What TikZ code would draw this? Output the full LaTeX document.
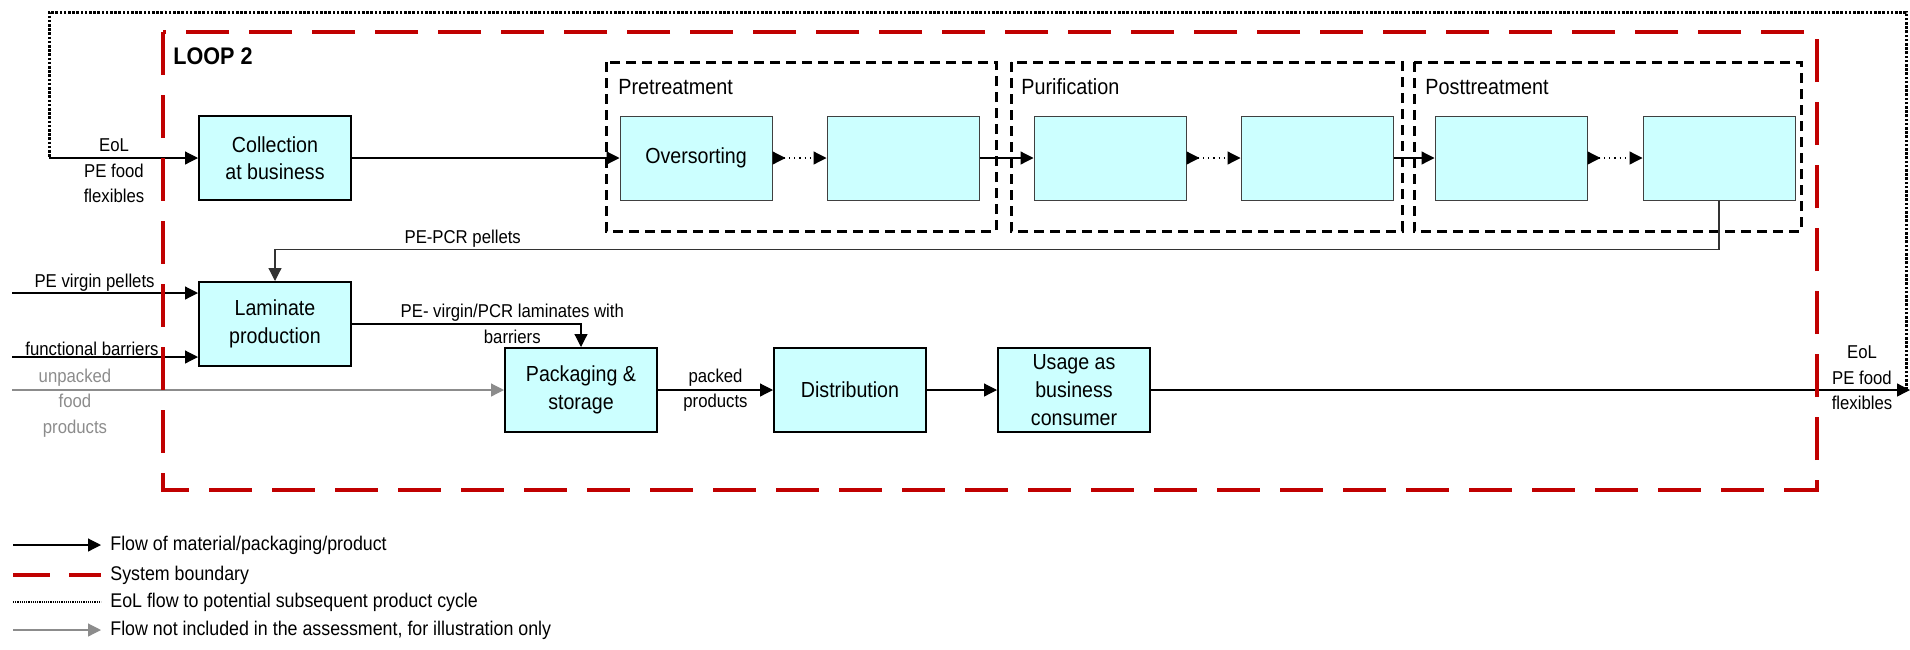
\documentclass[tikz,border=0pt]{standalone}
\usepackage{fontspec}
\setmainfont{Liberation Sans}[FakeStretch=0.9]
\usetikzlibrary{positioning,arrows.meta}

\definecolor{boxcyan}{RGB}{204,255,255}
\definecolor{boundred}{RGB}{192,0,0}
\definecolor{flowgray}{RGB}{140,140,140}

\begin{document}
\begin{tikzpicture}[x=0.5pt, y=-0.5pt,
        proc/.style={draw, line width=1pt, fill=boxcyan, minimum width=76pt, minimum height=42pt, align=center, inner sep=1pt, font=\fontsize{10.9}{13.8}\selectfont},
        subproc/.style={proc, draw=black!75, line width=0.5pt},
        flow/.style={line width=0.6pt, -{Triangle[length=6.5pt,width=6.5pt]}},
        greyflow/.style={flow, draw=flowgray},
        stepflow/.style={line width=0.6pt, dotted, {Triangle[reversed,length=6.5pt,width=6.5pt]}-{Triangle[length=6.5pt,width=6.5pt]}},
        eolflow/.style={line width=1.5pt, dash pattern=on 1.3pt off 0.8pt},
        boundary/.style={draw=boundred, line width=2pt, dash pattern=on 21.5pt off 10pt},
        groupbox/.style={draw, line width=1.5pt, dash pattern=on 5pt off 3pt},
        grouptitle/.style={anchor=west, inner sep=0pt, font=\fontsize{11}{13}\selectfont},
        lbl/.style={align=center, inner sep=1pt, font=\fontsize{9.3}{12.7}\selectfont},
        legtext/.style={anchor=west, inner sep=4.5pt, font=\fontsize{9.9}{12}\selectfont}
    ]
    \useasboundingbox (0,0) rectangle (1910,649);

    % recycling steps, grouped
    \draw[groupbox] (606,62) rectangle (996,231);
    \draw[groupbox] (1011,62) rectangle (1402,231);
    \draw[groupbox] (1414,62) rectangle (1801,231);
    \node[grouptitle] (pretitle) at (618,87) {Pretreatment};
    \node[grouptitle] (purtitle) at (1021,87) {Purification};
    \node[grouptitle] (posttitle) at (1425,87) {Posttreatment};

    \node[proc] (coll) at (275,158) {Collection\\at business};
    \node[subproc] (oversort) at (696,158) {Oversorting};
    \node[subproc, right=27pt of oversort] (pre2) {};
    \node[subproc, right=27pt of pre2] (pur1) {};
    \node[subproc, right=27pt of pur1] (pur2) {};
    \node[subproc, right=20.5pt of pur2] (post1) {};
    \node[subproc, right=27.5pt of post1] (post2) {};

    \node[proc, below=40pt of coll] (lam) {Laminate\\production};
    \node[proc] (pack) at (581,390) {Packaging \&\\storage};
    \node[proc, right=57.5pt of pack] (dist) {Distribution};
    \node[proc, right=35pt of dist] (usage) {Usage as\\business\\consumer};

    \coordinate (fbleft) at (49,158);
    \coordinate (fbtop) at (49,12);
    \coordinate (fbright) at (1906,390);
    \coordinate (eolout) at (1910,390);
    \coordinate (virgin) at (12,293);
    \coordinate (barrier) at (12,357);
    \coordinate (unpacked) at (12,390);

    % EoL back to the next cycle
    \draw[eolflow] (fbright) |- (fbtop) -- (fbleft);
    \draw[flow] (fbleft) -- (coll);
    \node[lbl] (eolin) at (114,171) {EoL\\PE food\\flexibles};

    \draw[flow] (coll) -- (oversort);
    \draw[stepflow] (oversort) -- (pre2);
    \draw[flow] (pre2) -- (pur1);
    \draw[stepflow] (pur1) -- (pur2);
    \draw[flow] (pur2) -- (post1);
    \draw[stepflow] (post1) -- (post2);
    \draw[flow, draw=black!80] (post2.south) -- ++(0,49) -| (lam.north) node[lbl, pos=0.435, above] (pcrlbl) {PE-PCR pellets};

    % inputs
    \draw[flow] (virgin) -- (virgin -| lam.west);
    \node[lbl, anchor=base east] (virginlbl) at (157,287) {PE virgin pellets};
    \draw[flow] (barrier) -- (barrier -| lam.west);
    \node[lbl, anchor=base] (barrierlbl) at (92,355) {functional barriers};
    \draw[greyflow] (unpacked) -- (pack);
    \node[lbl, text=flowgray] (unpackedlbl) at (75,403) {unpacked\\food\\products};

    \draw[flow] (lam) -| (pack) node[lbl, pos=0.35] (lamlbl) {PE- virgin/PCR laminates with\\barriers};
    \draw[flow] (pack) -- node[lbl] (packedlbl) {packed\\products} (dist);
    \draw[flow] (dist) -- (usage);
    \draw[flow] (usage) -- (eolout);
    \node[lbl] (eolouttxt) at (1862,378) {EoL\\PE food\\flexibles};

    % system boundary
    \draw[boundary] (163,32) rectangle (1817,490);
    \node[anchor=west, inner sep=0pt, font=\bfseries\fontsize{12}{14}\selectfont] (loop) at (173,56) {LOOP 2};

    % legend
    \coordinate (leg1) at (13,545);
    \coordinate (leg2) at (13,575);
    \coordinate (leg3) at (13,602);
    \coordinate (leg4) at (13,630);
    \node[legtext] (leg1txt) at (101,545) {Flow of material/packaging/product};
    \node[legtext] (leg2txt) at (101,575) {System boundary};
    \node[legtext] (leg3txt) at (101,602) {EoL flow to potential subsequent product cycle};
    \node[legtext] (leg4txt) at (101,630) {Flow not included in the assessment, for illustration only};
    \draw[flow] (leg1) -- (leg1txt);
    \draw[boundary, dash pattern=on 18.5pt off 9.5pt] (leg2) -- (leg2txt);
    \draw[eolflow, line width=0.9pt, dash pattern=on 0.6pt off 0.5pt] (leg3) -- (leg3txt);
    \draw[greyflow] (leg4) -- (leg4txt);
\end{tikzpicture}
\end{document}
